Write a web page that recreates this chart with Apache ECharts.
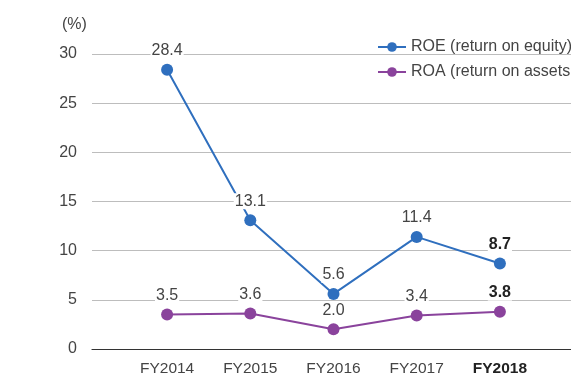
<!DOCTYPE html>
<html>
<head>
<meta charset="utf-8">
<script src="https://cdn.jsdelivr.net/npm/echarts@6/dist/echarts.min.js"></script>
<style>
  html, body { margin: 0; padding: 0; background: #fff; }
  #chart { width: 571px; height: 377px; }
</style>
</head>
<body>
<div id="chart"></div>
<script>
// Fiscal years and return ratios (%)
const years = ['FY2014', 'FY2015', 'FY2016', 'FY2017', 'FY2018'];
const roe = [28.4, 13.1, 5.6, 11.4, 8.7];
const roa = [3.5, 3.6, 2.0, 3.4, 3.8];
const seriesNames = ['ROE (return on equity)', 'ROA (return on assets'];
const latestIndex = 4;

const FONT = '"Liberation Sans", Arial, sans-serif';
const TEXT = '#444';
const BLUE = '#2f6fbe';
const PURPLE = '#8a439c';

function labelData(values) {
  return values.map((v, i) => ({
    value: v,
    label: i === latestIndex ? { fontWeight: 'bold', color: '#222' } : {}
  }));
}

const lineLabel = {
  show: true,
  position: 'top',
  distance: 5,
  fontFamily: FONT,
  fontSize: 16,
  color: TEXT,
  backgroundColor: '#fff',
  padding: [0, 1],
  formatter: p => p.value.toFixed(1)
};

const chart = echarts.init(document.getElementById('chart'), null, { renderer: 'canvas' });
chart.setOption({
  animation: false,
  textStyle: { fontFamily: FONT },
  grid: [
    // wide grid carrying the horizontal rules
    { left: 92, right: 0, top: 54, bottom: 28 },
    // data grid carrying the year slots
    { left: 125.5, width: 416, top: 54, bottom: 28 }
  ],
  xAxis: [
    { gridIndex: 0, type: 'category', data: [''], show: true,
      axisLine: { lineStyle: { color: '#333', width: 1.2 } },
      axisTick: { show: false }, axisLabel: { show: false } },
    { gridIndex: 1, type: 'category', data: years,
      axisLine: { show: false }, axisTick: { show: false },
      axisLabel: {
        interval: 0,
        margin: 12, fontFamily: FONT, fontSize: 15.5, color: TEXT,
        formatter: (v, i) => i === latestIndex ? '{b|' + v + '}' : v,
        rich: { b: { fontFamily: FONT, fontSize: 15.5, fontWeight: 'bold', color: '#222' } }
      } }
  ],
  yAxis: [
    { gridIndex: 0, type: 'value', min: 0, max: 30, interval: 5,
      axisLine: { show: false }, axisTick: { show: false },
      axisLabel: { margin: 15, fontFamily: FONT, fontSize: 16, color: TEXT },
      splitLine: { lineStyle: { color: '#bdbdbd', width: 1 } } },
    { gridIndex: 1, type: 'value', min: 0, max: 30, interval: 5, show: false,
      splitLine: { show: false } }
  ],
  legend: {
    orient: 'vertical',
    left: 372,
    top: 34,
    itemWidth: 28,
    itemHeight: 12,
    itemGap: 9,
    textStyle: { fontFamily: FONT, fontSize: 16, color: TEXT },
    data: seriesNames
  },
  graphic: [
    { type: 'text', left: 62, top: 17,
      style: { text: '(%)', font: '16px ' + FONT, fill: TEXT } }
  ],
  series: [
    { name: seriesNames[0], type: 'line', xAxisIndex: 1, yAxisIndex: 1,
      data: labelData(roe), symbol: 'circle', symbolSize: 12,
      lineStyle: { color: BLUE, width: 2 }, itemStyle: { color: BLUE },
      label: lineLabel, z: 3 },
    { name: seriesNames[1], type: 'line', xAxisIndex: 1, yAxisIndex: 1,
      data: labelData(roa), symbol: 'circle', symbolSize: 12,
      lineStyle: { color: PURPLE, width: 2 }, itemStyle: { color: PURPLE },
      label: lineLabel, z: 3 }
  ]
});
</script>
</body>
</html>
